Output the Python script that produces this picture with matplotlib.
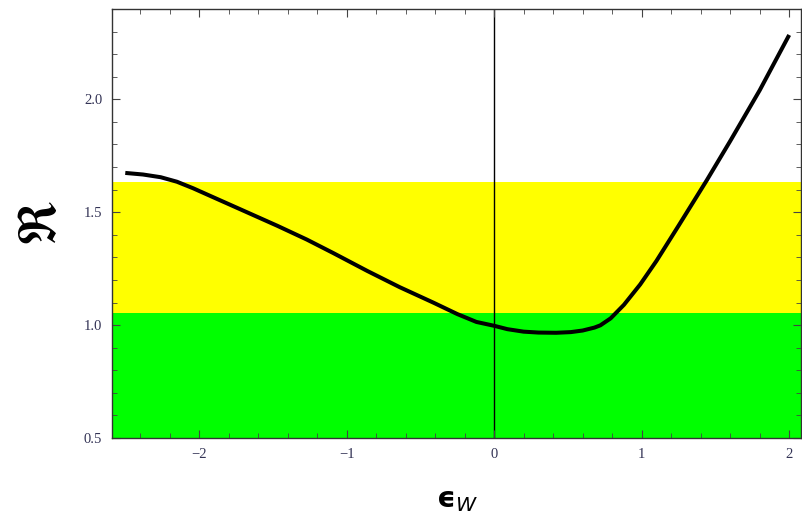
"""Ratio R versus epsilon_W with allowed bands (Mathematica-style frame)."""

import matplotlib
matplotlib.use('Agg')
import matplotlib.pyplot as plt
from matplotlib.ticker import MultipleLocator, FormatStrFormatter

# curve
eps_w = [-2.5, -2.38, -2.26, -2.15, -2.04, -1.92, -1.7, -1.47, -1.27, -1.09,
         -0.86, -0.64, -0.41, -0.25, -0.12, 0.0, 0.09, 0.2, 0.3, 0.42, 0.52,
         0.6, 0.68, 0.72, 0.79, 0.88, 0.99, 1.1, 1.25, 1.44, 1.6, 1.8, 2.0]
ratio = [1.674, 1.667, 1.655, 1.635, 1.606, 1.571, 1.507, 1.440, 1.379,
         1.319, 1.240, 1.168, 1.099, 1.049, 1.014, 0.997, 0.982, 0.971,
         0.967, 0.966, 0.969, 0.976, 0.989, 0.999, 1.030, 1.090, 1.180,
         1.284, 1.44, 1.640, 1.815, 2.04, 2.285]

# horizontal bands
green_band = (0.5, 1.052)
yellow_band = (1.052, 1.632)

plt.rcParams['mathtext.fontset'] = 'stix'
plt.rcParams['font.family'] = ['Liberation Serif', 'DejaVu Serif']

fig = plt.figure(figsize=(8.03, 5.24), dpi=100)
ax = fig.add_axes([112 / 803, 86 / 524, 689 / 803, 429 / 524])

ax.axhspan(*green_band, color='#00ff00', lw=0, zorder=0)
ax.axhspan(*yellow_band, color='#ffff00', lw=0, zorder=0)
ax.axvline(0, color='black', lw=1.0, zorder=1)
ax.plot(eps_w, ratio, color='black', lw=2.9, solid_joinstyle='round',
        solid_capstyle='butt', zorder=2)

ax.set_xlim(-2.59, 2.08)
ax.set_ylim(0.5, 2.4)

ax.xaxis.set_major_locator(MultipleLocator(1))
ax.xaxis.set_minor_locator(MultipleLocator(0.2))
ax.yaxis.set_major_locator(MultipleLocator(0.5))
ax.yaxis.set_minor_locator(MultipleLocator(0.1))
ax.yaxis.set_major_formatter(FormatStrFormatter('%.1f'))
ax.set_yticks([0.5, 1.0, 1.5, 2.0])

ax.tick_params(which='both', direction='in', top=True, right=True,
               labelsize=10.5, labelcolor='#333355', color='#444444')
ax.tick_params(which='major', length=6, width=0.8, pad=7)
ax.tick_params(which='minor', length=3.5, width=0.6)
for s in ax.spines.values():
    s.set_color('#333333')
    s.set_linewidth(1.0)

ax.set_ylabel(r'$\Re$', fontsize=38, labelpad=12)
ax.set_xlabel(r'$\mathbf{ϵ}_{\mathit{W}}$', fontsize=21, labelpad=20,
              math_fontfamily='dejavusans')

fig.savefig('out.png', dpi=100)
